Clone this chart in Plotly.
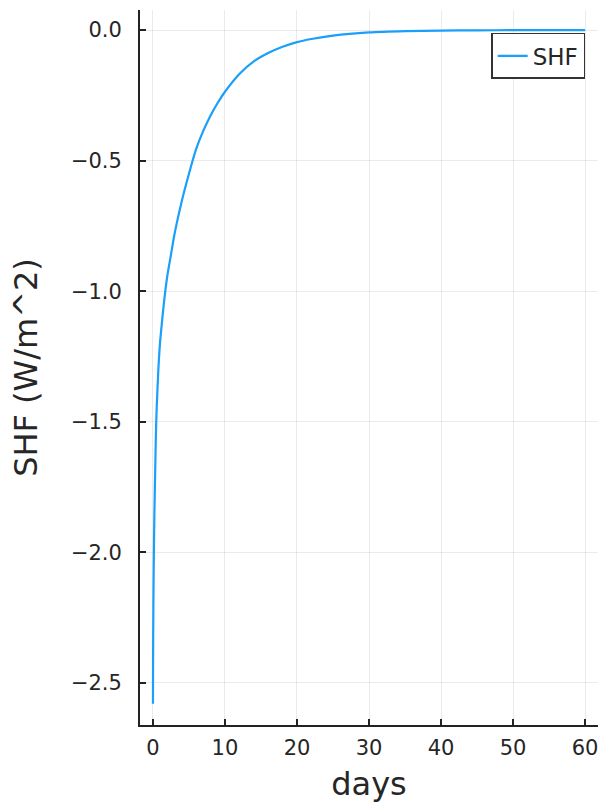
import plotly.graph_objects as go

# Sensible heat flux time series
days = [0, 0.01, 0.03, 0.06, 0.1, 0.15, 0.2, 0.3, 0.4, 0.5, 0.75, 1.0, 1.5, 2.0,
        2.5, 3.0, 4.0, 5.0, 6.0, 7.0, 8.0, 9.0, 10.0, 12.0, 14.0, 16.0, 18.0,
        20.0, 22.0, 25.0, 30.0, 35.0, 40.0, 45.0, 50.0, 55.0, 60.0]
shf = [-2.58, -2.47, -2.33, -2.20, -2.07, -1.95, -1.85, -1.70, -1.56, -1.46,
       -1.30, -1.19, -1.05, -0.94, -0.86, -0.78, -0.655, -0.55, -0.455, -0.385,
       -0.327, -0.278, -0.236, -0.168, -0.12, -0.088, -0.064, -0.046, -0.034,
       -0.021, -0.009, -0.004, -0.0018, -0.0008, -0.0004, -0.0002, -0.0001]

x_ticks = [0, 10, 20, 30, 40, 50, 60]
y_ticks = [0.0, -0.5, -1.0, -1.5, -2.0, -2.5]
y_tick_text = ["0.0", "\u22120.5", "\u22121.0", "\u22121.5", "\u22122.0", "\u22122.5"]

font_family = "DejaVu Sans"

fig = go.Figure()
fig.add_trace(go.Scatter(
    x=days, y=shf, mode="lines", name="SHF",
    line=dict(color="#1A9FFA", width=2.2, shape="spline", smoothing=0.5),
))

axis_common = dict(
    showline=True, linecolor="#222222", linewidth=1.8,
    ticks="inside", ticklen=6, tickwidth=1.5, tickcolor="#222222",
    showgrid=True, gridcolor="rgba(0,0,0,0.08)", gridwidth=1,
    zeroline=False, mirror=False,
    tickfont=dict(family=font_family, size=21, color="#262626"),
    title_font=dict(family=font_family, size=32, color="#262626"),
)

fig.update_layout(
    width=604, height=810,
    margin=dict(l=140, r=6, t=10, b=85),
    paper_bgcolor="white", plot_bgcolor="white",
    showlegend=True,
    legend=dict(
        x=0.972, y=0.968, xanchor="right", yanchor="top",
        bordercolor="#333333", borderwidth=1.5, bgcolor="white",
        font=dict(family=font_family, size=23, color="#262626"),
        itemwidth=30, tracegroupgap=0,
    ),
    xaxis=dict(
        range=[-1.8, 61.8], tickvals=x_ticks,
        title=dict(text="days", standoff=14),
        ticklabelstandoff=3,
        **axis_common,
    ),
    yaxis=dict(
        range=[-2.661, 0.077], tickvals=y_ticks, ticktext=y_tick_text,
        title=dict(text="SHF (W/m^2)", standoff=24),
        ticklabelstandoff=12,
        **axis_common,
    ),
)

fig.write_html("out.html")
